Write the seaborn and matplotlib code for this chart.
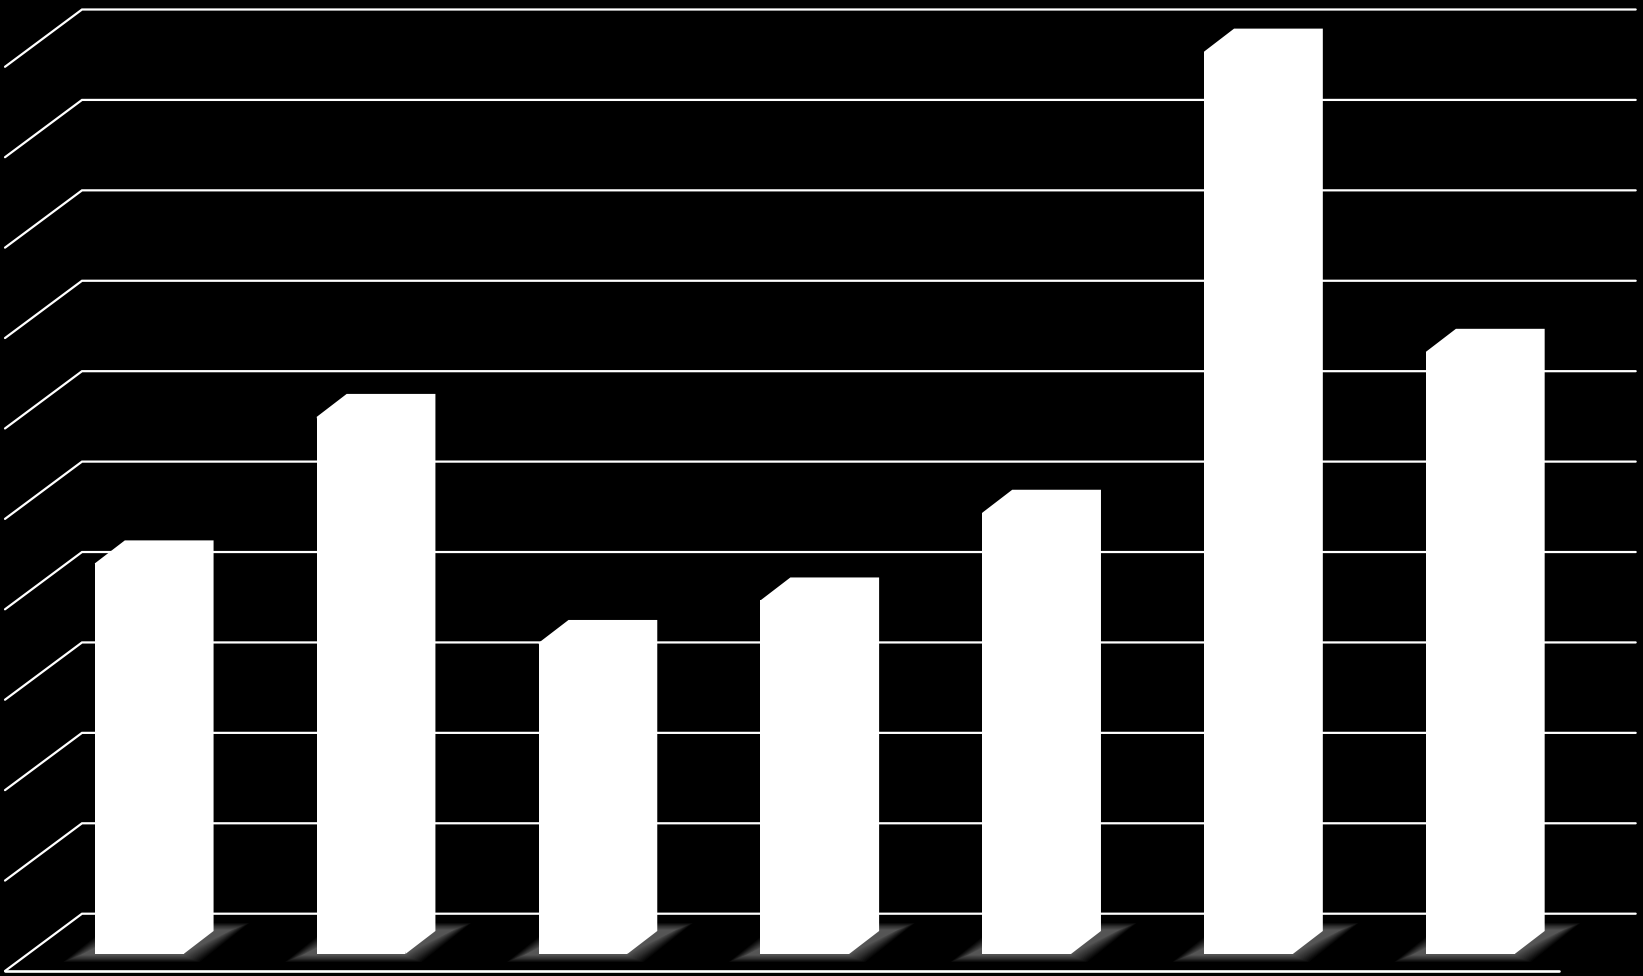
import matplotlib
matplotlib.use("Agg")
import matplotlib.pyplot as plt
from matplotlib.patches import Polygon
import seaborn as sns

# --- DATA ---
categories = ["A", "B", "C", "D", "E", "F", "G"]
values = [4.32, 5.94, 3.44, 3.91, 4.88, 9.98, 6.66]
grid_levels = [0, 1, 2, 3, 4, 5, 6, 7, 8, 9, 10]

# --- LAYOUT (one category = 222 px, one grid step = 90.42 px) ---
W, H = 1643, 976
PX_X, PX_Y = 221.85, 90.42
X0_PX, Y0_PX = 139.2, 954.0
BAR_WIDTH = 0.4
BAR_DX, BAR_DY = 30 / PX_X, 23 / PX_Y      # bar depth
WALL_DX, WALL_DY = 77 / PX_X, 57.3 / PX_Y  # depth of the floor
FLOOR_X0 = (5 - X0_PX) / PX_X
FLOOR_X1 = (1558.7 - X0_PX) / PX_X
FLOOR_Y = (Y0_PX - 971) / PX_Y

sns.set_theme(style="white")
fig = plt.figure(figsize=(W / 100, H / 100), dpi=100, facecolor="black")
ax = fig.add_axes([0, 0, 1, 1], facecolor="black")

# Front faces
sns.barplot(x=categories, y=values, color="white", saturation=1, width=BAR_WIDTH,
            linewidth=0, ax=ax, zorder=5)
ax.set_xlim(-X0_PX / PX_X, (W - X0_PX) / PX_X)
ax.set_ylim(-(H - Y0_PX) / PX_Y, Y0_PX / PX_Y)
ax.axis("off")

# Grid: left wall plus back wall
for level in grid_levels:
    ax.plot([FLOOR_X0, FLOOR_X0 + WALL_DX, FLOOR_X1 + WALL_DX],
            [FLOOR_Y + level, FLOOR_Y + WALL_DY + level, FLOOR_Y + WALL_DY + level],
            color="white", lw=1.6, solid_joinstyle="miter", zorder=2)
ax.plot([FLOOR_X0, FLOOR_X1], [FLOOR_Y, FLOOR_Y], color="white", lw=1.9, zorder=2)

# Bar sides, tops and the soft floor shadow
shadow_layers = 16
for patch in list(ax.patches):
    x, w, h = patch.get_x(), patch.get_width(), patch.get_height()
    ax.add_patch(Polygon([(x, h), (x + BAR_DX, h + BAR_DY), (x + w + BAR_DX, h + BAR_DY),
                          (x + w + BAR_DX, BAR_DY), (x + w, 0)],
                         closed=True, fc="white", ec="none", zorder=5))
    for i in range(shadow_layers):
        grow = (shadow_layers - 1 - i) * 1.2   # widest and faintest first
        left = x - 14 / PX_X - grow / PX_X
        right = x + w - 2 / PX_X + grow / PX_X
        low = -(1 + grow * 0.4) / PX_Y
        high = (24 + grow * 0.4) / PX_Y
        skew = 50 / PX_X
        ax.add_patch(Polygon([(left, low), (right, low), (right + skew, high), (left + skew, high)],
                             closed=True, fc="white", ec="none", alpha=0.027, zorder=3))

fig.savefig("out.png", dpi=100, facecolor="black")
